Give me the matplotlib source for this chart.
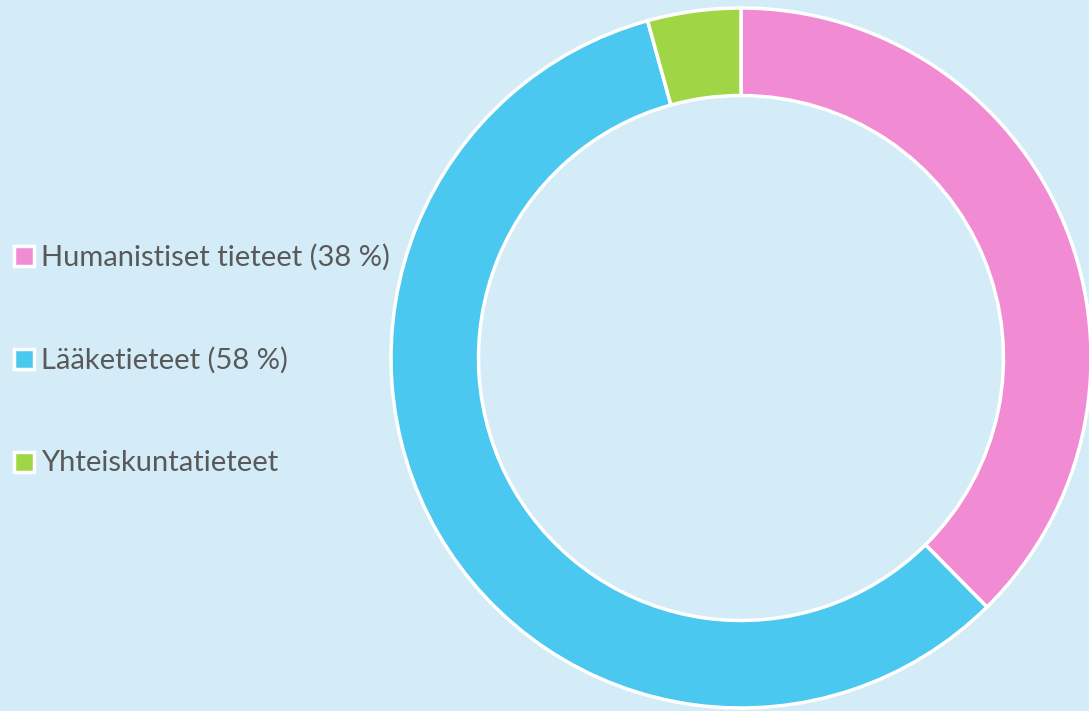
import matplotlib.pyplot as plt
from matplotlib.patches import Rectangle

labels = ['Humanistiset tieteet (38 %)', 'Lääketieteet (58 %)', 'Yhteiskuntatieteet']
values = [37.6, 58.1, 4.3]
colors = ['#F08BD4', '#4BC8EF', '#A0D646']

bg = '#D4ECF7'
fig = plt.figure(figsize=(10.89, 7.11), dpi=100, facecolor=bg)

ax = fig.add_axes([391 / 1089, 3 / 711, 700 / 1089, 700 / 711])
ax.set_facecolor(bg)
wedges, _ = ax.pie(values, colors=colors, startangle=90, counterclock=False,
                   radius=1.0, wedgeprops=dict(width=0.25, edgecolor='white', linewidth=2.5))
ax.set_xlim(-1.0, 1.0)
ax.set_ylim(-1.0, 1.0)
ax.set_aspect('equal')
ax.axis('off')

# legend on the left
y0 = 256
for i, (lab, c) in enumerate(zip(labels, colors)):
    y = y0 + i * 103
    fig.patches.append(Rectangle((14 / 1089, 1 - (y + 10) / 711), 20 / 1089, 20 / 711,
                                 transform=fig.transFigure, facecolor=c,
                                 edgecolor='white', linewidth=2.5))
    fig.text(41 / 1089, 1 - (y + 1) / 711, lab, fontsize=21, color='#595959',
             family='Lato', va='center', ha='left')

fig.savefig('out.png', dpi=100, facecolor=bg)
